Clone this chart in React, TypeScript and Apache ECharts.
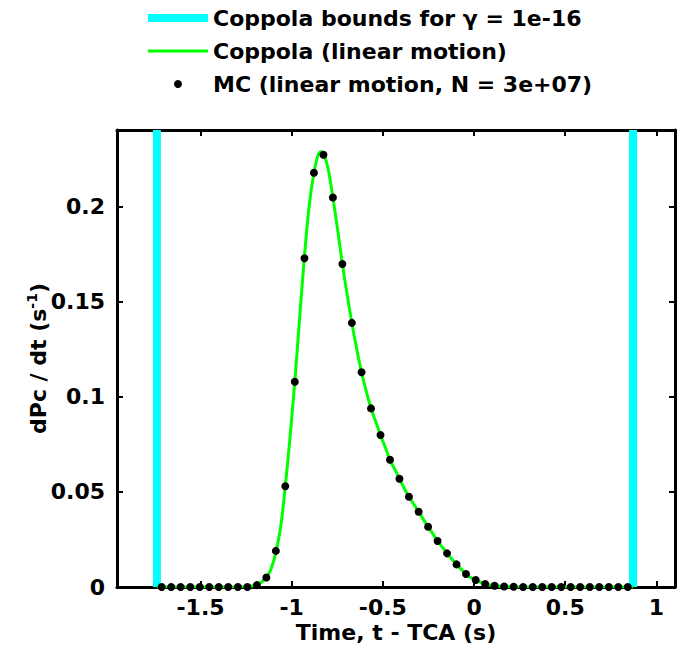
import React, { useEffect, useRef } from "react";
import * as echarts from "echarts";

// Axis limits and ticks
const X_MIN = -1.958;
const X_MAX = 1.102;
const Y_MIN = 0;
const Y_MAX = 0.2405;
const X_TICKS = [-1.5, -1, -0.5, 0, 0.5, 1];
const Y_TICKS = [0, 0.05, 0.1, 0.15, 0.2];

// Coppola bounds (vertical lines)
const BOUNDS = [-1.739, 0.872];

// Monte Carlo points (bin centres, values)
const MC_T = [
  -1.713, -1.661, -1.609, -1.556, -1.504, -1.452, -1.4, -1.348, -1.295, -1.243,
  -1.191, -1.139, -1.087, -1.035, -0.983, -0.93, -0.878, -0.826, -0.774, -0.722,
  -0.67, -0.617, -0.565, -0.513, -0.461, -0.409, -0.357, -0.304, -0.252, -0.2,
  -0.148, -0.096, -0.044, 0.009, 0.061, 0.113, 0.165, 0.217, 0.269, 0.322,
  0.374, 0.426, 0.478, 0.53, 0.582, 0.635, 0.687, 0.739, 0.791, 0.843,
];
const MC_V = [
  0, 0, 0, 0, 0, 0, 0, 0, 0, 0,
  0.001, 0.005, 0.019, 0.053, 0.108, 0.173, 0.218, 0.2275, 0.205, 0.17,
  0.139, 0.113, 0.094, 0.08, 0.067, 0.057, 0.0475, 0.0396, 0.0317, 0.0242,
  0.0177, 0.0119, 0.0068, 0.0037, 0.0016, 0.0007, 0.0003, 0.0001, 0, 0,
  0, 0, 0, 0, 0, 0, 0, 0, 0, 0,
];

// Coppola curve (linear motion)
const CURVE_T = [
  -1.739, -1.3, -1.25, -1.2, -1.16, -1.12, -1.09, -1.06, -1.035, -1.01,
  -0.983, -0.957, -0.931, -0.905, -0.878, -0.855, -0.839, -0.826, -0.8, -0.774,
  -0.748, -0.722, -0.696, -0.67, -0.643, -0.617, -0.591, -0.565, -0.539, -0.513,
  -0.487, -0.461, -0.435, -0.409, -0.383, -0.357, -0.33, -0.304, -0.278, -0.252,
  -0.226, -0.2, -0.174, -0.148, -0.122, -0.096, -0.07, -0.044, -0.018, 0.009,
  0.035, 0.061, 0.087, 0.113, 0.16, 0.22, 0.3, 0.872,
];
const CURVE_V = [
  0, 0, 0.0002, 0.0009, 0.003, 0.008, 0.017, 0.032, 0.053, 0.078,
  0.108, 0.141, 0.173, 0.2, 0.218, 0.2275, 0.229, 0.2285, 0.22, 0.205,
  0.188, 0.17, 0.154, 0.139, 0.125, 0.113, 0.103, 0.094, 0.087, 0.08,
  0.0735, 0.067, 0.062, 0.057, 0.052, 0.0475, 0.0435, 0.0396, 0.0356, 0.0317,
  0.028, 0.0242, 0.021, 0.0177, 0.0147, 0.0119, 0.0093, 0.0068, 0.005, 0.0037,
  0.0025, 0.0016, 0.001, 0.0007, 0.0003, 0.0001, 0, 0,
];

const BOUND_NAME = "Coppola bounds for \u03b3 = 1e-16";
const CURVE_NAME = "Coppola (linear motion)";
const MC_NAME = "MC (linear motion, N = 3e+07)";

const FONT = "DejaVu Sans";
const textBase = {
  fontFamily: FONT,
  fontWeight: "bold" as const,
  fontSize: 22,
  color: "#000",
};

export default function App() {
  const ref = useRef<HTMLDivElement>(null);
  useEffect(() => {
    if (!ref.current) return;
    const chart = echarts.init(ref.current, undefined, { renderer: "svg" });
    const axisLine = { show: true, onZero: false, lineStyle: { color: "#000", width: 3 } };
    const tickStyle = { color: "#000", width: 2 };
    chart.setOption({
      animation: false,
      backgroundColor: "#fff",
      grid: { left: 117, right: 4, top: 130, bottom: 73 },
      legend: {
        orient: "vertical",
        left: 139,
        top: 0,
        itemWidth: 60,
        itemHeight: 10,
        itemGap: 7,
        selectedMode: false,
        textStyle: { ...textBase, lineHeight: 26 },
        lineStyle: { width: "inherit" },
        data: [
          { name: BOUND_NAME, itemStyle: { opacity: 0 } },
          { name: CURVE_NAME, itemStyle: { opacity: 0 } },
          MC_NAME,
        ],
      },
      xAxis: [
        {
          type: "value",
          min: X_MIN,
          max: X_MAX,
          position: "bottom",
          axisLine,
          axisTick: { show: true, inside: true, length: 6, lineStyle: tickStyle, customValues: X_TICKS },
          axisLabel: { ...textBase, margin: 9, customValues: X_TICKS, formatter: (v: number) => String(v) },
          splitLine: { show: false },
          name: "Time, t - TCA (s)",
          nameLocation: "middle",
          nameGap: 34,
          nameMoveOverlap: false,
          nameTextStyle: textBase,
        },
        {
          type: "value",
          min: X_MIN,
          max: X_MAX,
          position: "top",
          axisLine,
          axisTick: { show: true, inside: true, length: 6, lineStyle: tickStyle, customValues: X_TICKS },
          axisLabel: { show: false },
          splitLine: { show: false },
        },
      ],
      yAxis: [
        {
          type: "value",
          min: Y_MIN,
          max: Y_MAX,
          position: "left",
          axisLine,
          axisTick: { show: true, inside: true, length: 6, lineStyle: tickStyle, customValues: Y_TICKS },
          axisLabel: { ...textBase, margin: 12, customValues: Y_TICKS, formatter: (v: number) => String(v) },
          splitLine: { show: false },
          name: "{a|dPc / dt (s}{b|-1}{a|)}",
          nameLocation: "middle",
          nameGap: 66,
          nameMoveOverlap: false,
          nameTextStyle: {
            rich: {
              a: { ...textBase, lineHeight: 26 },
              b: { ...textBase, fontSize: 14, verticalAlign: "top", lineHeight: 26 },
            },
          },
        },
        {
          type: "value",
          min: Y_MIN,
          max: Y_MAX,
          position: "right",
          axisLine,
          axisTick: { show: true, inside: true, length: 6, lineStyle: tickStyle, customValues: Y_TICKS },
          axisLabel: { show: false },
          splitLine: { show: false },
        },
      ],
      series: [
        ...BOUNDS.map((b) => ({
          name: BOUND_NAME,
          type: "line",
          xAxisIndex: 0,
          yAxisIndex: 0,
          data: [
            [b, Y_MIN],
            [b, Y_MAX],
          ],
          symbol: "none",
          lineStyle: { color: "#00ffff", width: 8 },
          itemStyle: { color: "#00ffff" },
          silent: true,
        })),
        {
          name: CURVE_NAME,
          type: "line",
          xAxisIndex: 0,
          yAxisIndex: 0,
          data: CURVE_T.map((t, i) => [t, CURVE_V[i]]),
          symbol: "none",
          smooth: 0.3,
          lineStyle: { color: "#00ff00", width: 3 },
          itemStyle: { color: "#00ff00" },
          silent: true,
        },
        {
          name: MC_NAME,
          type: "line",
          xAxisIndex: 0,
          yAxisIndex: 0,
          data: MC_T.map((t, i) => [t, MC_V[i]]),
          symbol: "circle",
          symbolSize: 8,
          showSymbol: true,
          lineStyle: { width: 0, opacity: 0 },
          itemStyle: { color: "#000" },
          silent: true,
        },
      ],
    });
    return () => chart.dispose();
  }, []);
  return (
    <div
      ref={ref}
      style={{ position: "absolute", left: 0, top: 0, width: 679, height: 660 }}
    />
  );
}
